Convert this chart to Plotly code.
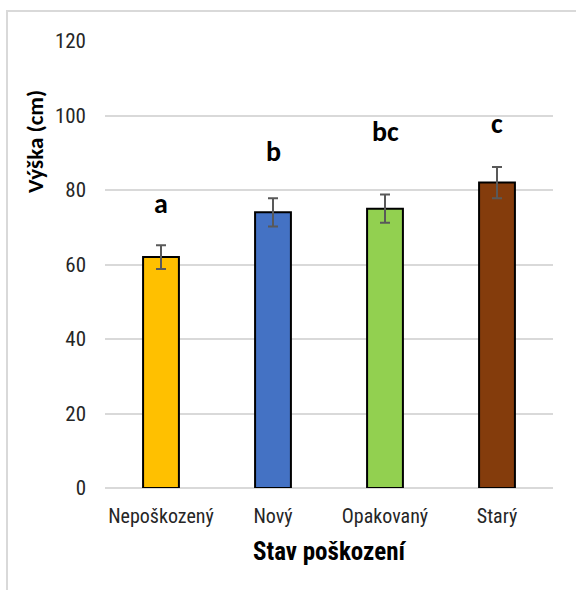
import plotly.graph_objects as go

categories = ["Nepoškozený", "Nový", "Opakovaný", "Starý"]
heights = [62, 74, 75, 82]
errors = [3.2, 3.8, 3.8, 4.2]
letters = ["a", "b", "bc", "c"]
letter_y = [73.3, 87.2, 92.6, 94.8]
colors = ["#FFC000", "#4472C4", "#92D050", "#843C0C"]
y_ticks = [0, 20, 40, 60, 80, 100, 120]

W, H = 576, 590
L, R, T, B = 105, 23, 41, 102
NARROW = "Roboto Condensed, Liberation Sans Narrow, sans-serif"
CAL = "Carlito, Calibri, Lato, sans-serif"

fig = go.Figure()
fig.add_trace(go.Bar(
    x=categories, y=heights,
    marker=dict(color=colors, line=dict(color="#000000", width=2)),
    error_y=dict(type="data", array=errors, visible=True,
                 color="#595959", thickness=2, width=5),
    width=0.32,
))

for c, t, yv in zip(categories, letters, letter_y):
    fig.add_annotation(x=c, y=yv, text="<b>" + t + "</b>", showarrow=False,
                       xref="x", yref="y", yanchor="bottom", yshift=-8,
                       font=dict(family=CAL, size=28, color="#000000"))

# y-axis title
fig.add_annotation(text="<b>Výška (cm)</b>", textangle=-90, showarrow=False,
                   xref="paper", yref="paper",
                   x=(35 - L) / (W - L - R), y=(H - B - 142) / (H - T - B),
                   xanchor="center", yanchor="middle",
                   font=dict(family=CAL, size=23, color="#000000"))

# frame (top & left edges visible)
fig.add_shape(type="rect", xref="paper", yref="paper",
              x0=(7 - L) / (W - L - R), x1=(W + 5 - L) / (W - L - R),
              y0=(H - B - (H + 5)) / (H - T - B), y1=(H - B - 11) / (H - T - B),
              line=dict(color="#D9D9D9", width=2), layer="below")

fig.update_layout(
    width=W, height=H,
    margin=dict(l=L, r=R, t=T, b=B),
    paper_bgcolor="#FFFFFF", plot_bgcolor="#FFFFFF",
    showlegend=False,
    bargap=0.68,
    xaxis=dict(
        showgrid=False, showline=False, zeroline=False,
        tickfont=dict(family=NARROW, size=20, color="#262626"),
        ticks="", ticklabelstandoff=14,
        title=dict(text="<b>Stav poškození</b>", standoff=15,
                   font=dict(family=NARROW, size=25, color="#000000")),
    ),
    yaxis=dict(
        range=[0, 120], tickvals=y_ticks,
        showgrid=True, gridcolor="#D9D9D9", gridwidth=1.5,
        zeroline=True, zerolinecolor="#D9D9D9", zerolinewidth=1.5,
        showline=False, ticks="", ticklabelstandoff=18,
        tickfont=dict(family=NARROW, size=21, color="#262626"),
    ),
)

fig.write_html("out.html", config={"displayModeBar": False},
               post_script="document.body.style.margin='0px';")
